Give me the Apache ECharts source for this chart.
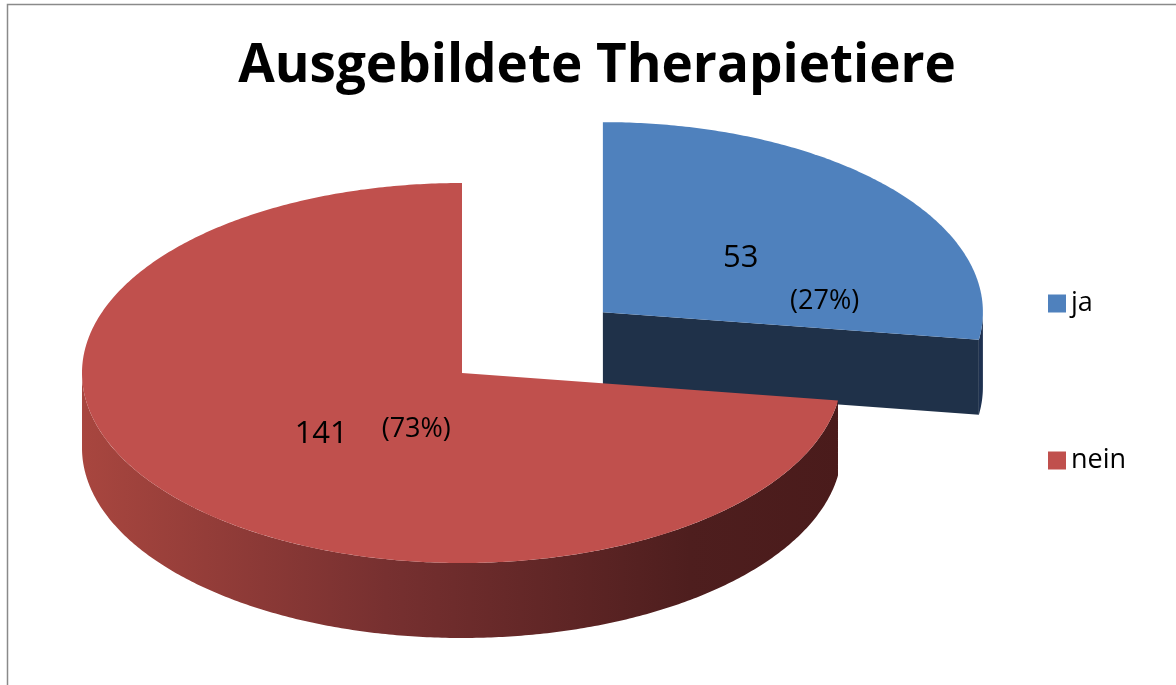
<!DOCTYPE html>
<html>
<head>
<meta charset="utf-8">
<title>Ausgebildete Therapietiere</title>
<script src="https://cdn.jsdelivr.net/npm/echarts@6/dist/echarts.min.js"></script>
<style>
  html, body { margin: 0; padding: 0; background: #fff; }
  #chart { width: 1176px; height: 685px; }
</style>
</head>
<body>
<div id="chart"></div>
<script>
// daten
const categories = ['ja', 'nein'];
const counts = [53, 141];
const sliceColors = ['#4F81BD', '#C0504D'];

// layout of the pseudo 3d pie
const CX = 462, CY = 373, RX = 380, RY = 190, DEPTH = 75;
const explode = [0.49, 0];
const numOffset = [[-6, 8], [3, -1]];
const pctOffset = [[78, 51], [98, -6]];
const sideStops = [
  [[0, '#4272AC'], [0.4, '#30537F'], [0.8, '#213653'], [1, '#1E3150']],
  [[0, '#A8463F'], [0.4, '#773030'], [0.8, '#4E1E1E'], [1, '#4A1B1B']]
];
const cutColors = ['#1F3149', '#4A1B1B'];

const total = counts.reduce((a, b) => a + b, 0);

function sliceAngles(i) {
  let before = 0;
  for (let k = 0; k < i; k++) before += counts[k];
  const a1 = Math.PI / 2 - before / total * Math.PI * 2;
  const a2 = a1 - counts[i] / total * Math.PI * 2;
  return [a1, a2];
}

function pt(cx, cy, a, dz) {
  return [cx + RX * Math.cos(a), cy - RY * Math.sin(a) + (dz || 0)];
}

function arc(cx, cy, from, to, dz) {
  const n = Math.max(2, Math.ceil(Math.abs(to - from) / 0.01));
  const pts = [];
  for (let s = 0; s <= n; s++) {
    pts.push(pt(cx, cy, from + (to - from) * s / n, dz));
  }
  return pts;
}

function buildSlice(i) {
  const [a1, a2] = sliceAngles(i);
  const mid = (a1 + a2) / 2;
  const cx = CX + explode[i] * RX * Math.cos(mid);
  const cy = CY - explode[i] * RY * Math.sin(mid);
  const children = [];

  // radial cut faces
  [[a1, a1 + Math.PI / 2], [a2, a2 - Math.PI / 2]].forEach(([a, n]) => {
    if (Math.sin(n) < -1e-6) {
      const p = pt(cx, cy, a);
      children.push({
        type: 'polygon',
        shape: { points: [[cx, cy], p, [p[0], p[1] + DEPTH], [cx, cy + DEPTH]] },
        style: { fill: cutColors[i] }
      });
    }
  });

  // outer rim, front half only
  for (let k = -2; k <= 1; k++) {
    const lo = Math.max(a2, -Math.PI + 2 * Math.PI * k);
    const hi = Math.min(a1, 2 * Math.PI * k);
    if (hi - lo > 1e-4) {
      const top = arc(cx, cy, hi, lo, 0);
      const bot = arc(cx, cy, lo, hi, DEPTH);
      children.push({
        type: 'polygon',
        shape: { points: top.concat(bot) },
        style: {
          fill: {
            type: 'linear', x: cx - RX, y: 0, x2: cx + RX, y2: 0, global: true,
            colorStops: sideStops[i].map(s => ({ offset: s[0], color: s[1] }))
          }
        }
      });
    }
  }

  // top face
  children.push({
    type: 'polygon',
    shape: { points: [[cx, cy]].concat(arc(cx, cy, a1, a2, 0)) },
    style: { fill: sliceColors[i] }
  });

  // labels
  const lx = cx + 0.5 * RX * Math.cos(mid);
  const ly = cy - 0.5 * RY * Math.sin(mid);
  children.push({
    type: 'text',
    style: {
      text: String(counts[i]), x: lx + numOffset[i][0], y: ly + numOffset[i][1], fill: '#000',
      fontSize: 31, fontFamily: 'Open Sans', align: 'center', verticalAlign: 'middle'
    }
  });
  children.push({
    type: 'text',
    style: {
      text: '(' + Math.round(counts[i] / total * 100) + '%)',
      x: lx + pctOffset[i][0], y: ly + pctOffset[i][1], fill: '#000',
      fontSize: 27, fontFamily: 'Open Sans', align: 'center', verticalAlign: 'middle'
    }
  });

  return { type: 'group', children: children };
}

const myChart = echarts.init(document.getElementById('chart'));
const option = {
  backgroundColor: '#fff',
  animation: false,
  title: {
    text: 'Ausgebildete Therapietiere',
    left: 592,
    textAlign: 'center',
    top: 35,
    textStyle: { fontSize: 53, fontWeight: 'bold', fontFamily: 'Open Sans', color: '#000' }
  },
  legend: {
    orient: 'vertical',
    left: 1043,
    top: 285,
    icon: 'rect',
    itemWidth: 18,
    itemHeight: 18,
    itemGap: 130,
    textStyle: { fontSize: 27, fontFamily: 'Open Sans', color: '#000' },
    data: categories
  },
  graphic: [{
    type: 'rect',
    silent: true,
    shape: { x: 7.5, y: 4.5, width: 1300, height: 800 },
    style: { fill: 'none', stroke: '#8A8A8A', lineWidth: 1.5 }
  }],
  series: categories.map((name, i) => ({
    type: 'custom',
    name: name,
    coordinateSystem: 'none',
    silent: true,
    itemStyle: { color: sliceColors[i] },
    data: [counts[i]],
    renderItem: () => buildSlice(i)
  }))
};
myChart.setOption(option);
</script>
</body>
</html>
